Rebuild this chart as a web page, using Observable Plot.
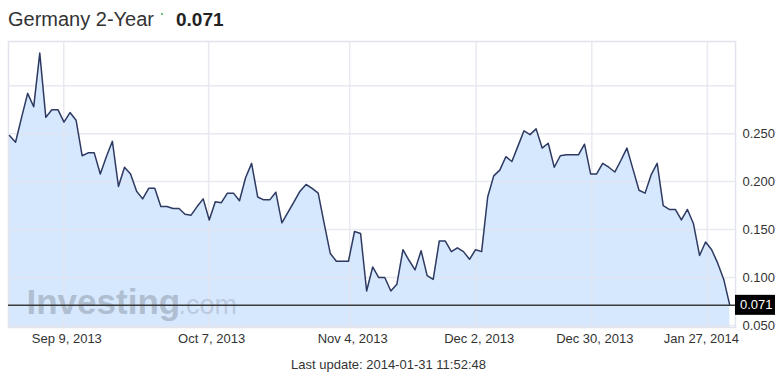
<!DOCTYPE html>
<html>
<head>
<meta charset="utf-8">
<script src="https://cdn.jsdelivr.net/npm/d3@7"></script>
<script src="https://cdn.jsdelivr.net/npm/@observablehq/plot@0.6"></script>
<style>
  html, body { margin: 0; padding: 0; background: #fff; }
  #chart { width: 777px; height: 379px; overflow: hidden; }
</style>
</head>
<body>
<div id="chart"></div>
<script>
// ---- data ----
const values = [
  0.248, 0.241, 0.267, 0.292, 0.278, 0.334, 0.267, 0.275, 0.275, 0.262,
  0.272, 0.264, 0.227, 0.230, 0.230, 0.208, 0.226, 0.242, 0.195, 0.215,
  0.208, 0.190, 0.182, 0.193, 0.193, 0.174, 0.174, 0.172, 0.172, 0.166,
  0.165, 0.174, 0.182, 0.160, 0.179, 0.178, 0.188, 0.188, 0.180, 0.204,
  0.219, 0.184, 0.181, 0.181, 0.189, 0.157, 0.168, 0.179, 0.190, 0.197,
  0.193, 0.188, 0.156, 0.125, 0.117, 0.117, 0.117, 0.148, 0.146, 0.086,
  0.111, 0.100, 0.100, 0.086, 0.093, 0.129, 0.118, 0.108, 0.128, 0.102,
  0.098, 0.138, 0.138, 0.127, 0.131, 0.127, 0.119, 0.129, 0.127, 0.184,
  0.206, 0.212, 0.226, 0.221, 0.237, 0.253, 0.249, 0.255, 0.235, 0.240,
  0.215, 0.227, 0.228, 0.228, 0.228, 0.239, 0.208, 0.208, 0.219, 0.215,
  0.210, 0.222, 0.235, 0.213, 0.191, 0.188, 0.207, 0.219, 0.175, 0.171,
  0.171, 0.160, 0.171, 0.156, 0.123, 0.137, 0.129, 0.115, 0.098, 0.071
];
const tickPos = [8.97, 32.9, 56.2, 77.1, 96.2, 115.3];
const tickLabels = ["Sep 9, 2013", "Oct 7, 2013", "Nov 4, 2013", "Dec 2, 2013", "Dec 30, 2013", "Jan 27, 2014"];
const gridYValues = [0.05, 0.10, 0.15, 0.20, 0.25, 0.30];
const labelYValues = [0.05, 0.10, 0.15, 0.20, 0.25];
const titleText = "Germany 2-Year";
const captionText = "Last update: 2014-01-31 11:52:48";
const watermarkMain = "Investing";
const watermarkTail = ".com";

// ---- derived tables ----
const data = values.map((v, i) => ({i, v}));
const last = values[values.length - 1];
const xTicks = tickPos.map((p, i) => ({p, label: tickLabels[i]}));
const fmt = d3.format(".3f");
const font = "'Liberation Sans', Arial, Helvetica, sans-serif";
const gridColor = "#e2e4ed";

const chart = Plot.plot({
  width: 777,
  height: 379,
  marginTop: 41,
  marginBottom: 52,
  marginLeft: 8,
  marginRight: 42,
  style: {fontFamily: font, fontSize: "13px", background: "#fff", color: "#333"},
  x: {domain: [-0.165, 119.94], axis: null},
  y: {domain: [0.0479, 0.3461], axis: null},
  marks: [
    Plot.areaY(data, {x: "i", y: "v", fill: "#d6e8fd", clip: true}),
    Plot.ruleY(gridYValues, {stroke: gridColor, strokeWidth: 1.5, strokeOpacity: 0.8}),
    Plot.ruleX(tickPos, {stroke: gridColor, strokeWidth: 1.5, strokeOpacity: 0.8}),
    Plot.frame({stroke: gridColor, strokeWidth: 1.5}),
    Plot.text([watermarkMain], {
      text: d => d, frameAnchor: "bottom-left", textAnchor: "start", lineAnchor: "bottom",
      dx: 18, dy: -14, fontSize: 35, fontWeight: "bold", fill: "#8a94a6", fillOpacity: 0.5
    }),
    Plot.text([watermarkTail], {
      text: d => d, frameAnchor: "bottom-left", textAnchor: "start", lineAnchor: "bottom",
      dx: 170, dy: -14, fontSize: 27, fill: "#8a94a6", fillOpacity: 0.35
    }),
    Plot.lineY(data, {x: "i", y: "v", stroke: "#2e3a62", strokeWidth: 1.5}),
    Plot.ruleY([last], {stroke: "#3a3a3a", strokeWidth: 1.5}),
    Plot.axisY({
      ticks: labelYValues, anchor: "right", tickSize: 0, tickPadding: 7, label: null,
      tickFormat: fmt, fontSize: 13, fill: "#333"
    }),
    Plot.text(xTicks.slice(0, -1), {
      x: "p", text: "label", frameAnchor: "bottom", lineAnchor: "top",
      dy: 6, dx: 3, fontSize: 13, fill: "#333"
    }),
    Plot.text(xTicks.slice(-1), {
      x: "p", text: "label", frameAnchor: "bottom", lineAnchor: "top",
      dy: 6, dx: -6, fontSize: 13, fill: "#333"
    })
  ]
});

document.getElementById("chart").appendChild(chart);

// ---- annotations placed via the chart's own scale ----
const svg = d3.select(chart);
const yLast = chart.scale("y").apply(last);
const g = svg.append("g")
  .attr("font-family", font)
  .attr("text-anchor", "start");

g.append("rect")
  .attr("x", 735).attr("y", yLast - 10)
  .attr("width", 40).attr("height", 20)
  .attr("fill", "#000");
g.append("text")
  .attr("x", 740).attr("y", yLast + 4.5)
  .attr("text-anchor", "start")
  .attr("fill", "#fff").attr("font-size", 13)
  .text(fmt(last));

// title
g.append("text")
  .attr("x", 8).attr("y", 25.5)
  .attr("text-anchor", "start")
  .attr("fill", "#333").attr("font-size", 20)
  .text(titleText);
g.append("rect")
  .attr("x", 161).attr("y", 13).attr("width", 2).attr("height", 2)
  .attr("fill", "#6cbf6c");
g.append("text")
  .attr("x", 176).attr("y", 25.5)
  .attr("text-anchor", "start")
  .attr("fill", "#222").attr("font-size", 19).attr("font-weight", "bold")
  .text(fmt(last));

// caption
g.append("text")
  .attr("x", 388.5).attr("y", 369)
  .attr("text-anchor", "middle")
  .attr("fill", "#333").attr("font-size", 13)
  .text(captionText);
</script>
</body>
</html>
